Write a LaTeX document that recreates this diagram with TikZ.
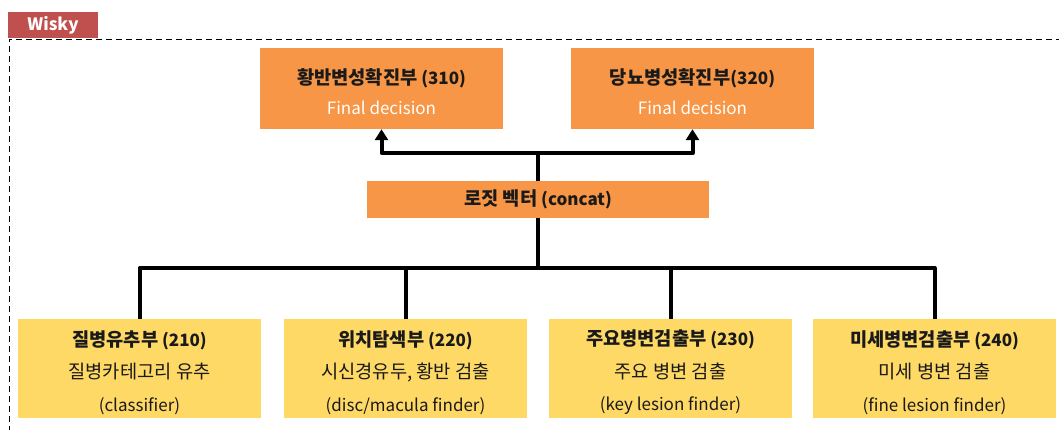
\documentclass[tikz,border=0pt]{standalone}
\usepackage{fontspec}
\setmainfont{Noto Sans CJK KR}
\newfontfamily\hangulfont{Noto Sans CJK KR}[Scale=1.1]
\newcommand{\kr}[1]{{\hangulfont #1}}
\usetikzlibrary{arrows.meta}

\definecolor{boxorange}{HTML}{F79646}
\definecolor{boxyellow}{HTML}{FFD966}
\definecolor{tabred}{HTML}{C0504D}
\definecolor{textdark}{HTML}{1A1A1A}

\tikzset{
    topbox/.style={fill=boxorange, minimum width=243pt, minimum height=81pt, inner sep=0pt},
    toptext/.style={align=center, text=textdark, font=\fontsize{17}{30}\selectfont},
    midbox/.style={fill=boxorange, minimum width=342pt, minimum height=37pt, inner sep=0pt,
        text=textdark, font=\fontsize{17}{20}\selectfont\bfseries},
    findbox/.style={fill=boxyellow, minimum width=243pt, minimum height=99pt, inner sep=0pt},
    findtext/.style={align=center, text=textdark, font=\fontsize{17}{32.5}\selectfont},
    link/.style={line width=4pt, line join=round},
    uparrow/.style={link, -{Triangle[width=13pt, length=11pt]}},
}

\begin{document}
\begin{tikzpicture}[x=1pt, y=-1pt]
    \useasboundingbox (0,0) rectangle (1059,430);

    % Frame
    \draw[thick, dash pattern=on 6pt off 4pt] (9,432) -- (9,39) -- (1062,39);
    \node[fill=tabred, minimum width=90pt, minimum height=26pt, inner sep=0pt,
        text=white, font=\fontsize{17}{20}\selectfont\bfseries] (tab) at (53,25) {Wisky};

    % Final decision
    \node[topbox] (yellowspot) at (381.5,88.5) {};
    \node[toptext] (yellowspottext) at ([yshift=-3.5pt]yellowspot.center)
        {\textbf{\kr{황반변성확진부} (310)}\\\textcolor{white}{Final decision}};
    \node[topbox] (diabetic) at (692.5,88.5) {};
    \node[toptext] (diabetictext) at ([yshift=-3.5pt]diabetic.center)
        {\textbf{\kr{당뇨병성확진부}(320)}\\\textcolor{white}{Final decision}};

    % Logit vector
    \node[midbox] (logit) at (538,199.5) {\kr{로짓 벡터} (concat)};

    % Finders
    \foreach \x/\nm/\head/\desc/\eng in {
        139.5/classify/{\kr{질병유추부} (210)}/{\kr{질병카테고리 유추}}/(classifier),
        405.5/disc/{\kr{위치탐색부} (220)}/{\kr{시신경유두, 황반 검출}}/(disc\slash macula finder),
        670.5/keylesion/{\kr{주요병변검출부} (230)}/{\kr{주요 병변 검출}}/(key lesion finder),
        934.5/finelesion/{\kr{미세병변검출부} (240)}/{\kr{미세 병변 검출}}/(fine lesion finder)} {
        \node[findbox] (\nm) at (\x,368.5) {};
        \node[findtext] (\nm text) at ([yshift=-4pt]\nm.center) {\textbf{\head}\\\desc\\\eng};
    }

    % Connectors
    \coordinate (upjoin) at (538,153);
    \coordinate (downjoin) at (538,268);
    \draw[link] (logit.north) -- (upjoin);
    \draw[uparrow] (upjoin) -| (yellowspot.south);
    \draw[uparrow] (upjoin) -| (diabetic.south);
    \draw[link] (logit.south) -- (downjoin);
    \foreach \nm in {classify, disc, keylesion, finelesion} {
        \draw[link] (downjoin) -| (\nm.north);
    }
\end{tikzpicture}
\end{document}
